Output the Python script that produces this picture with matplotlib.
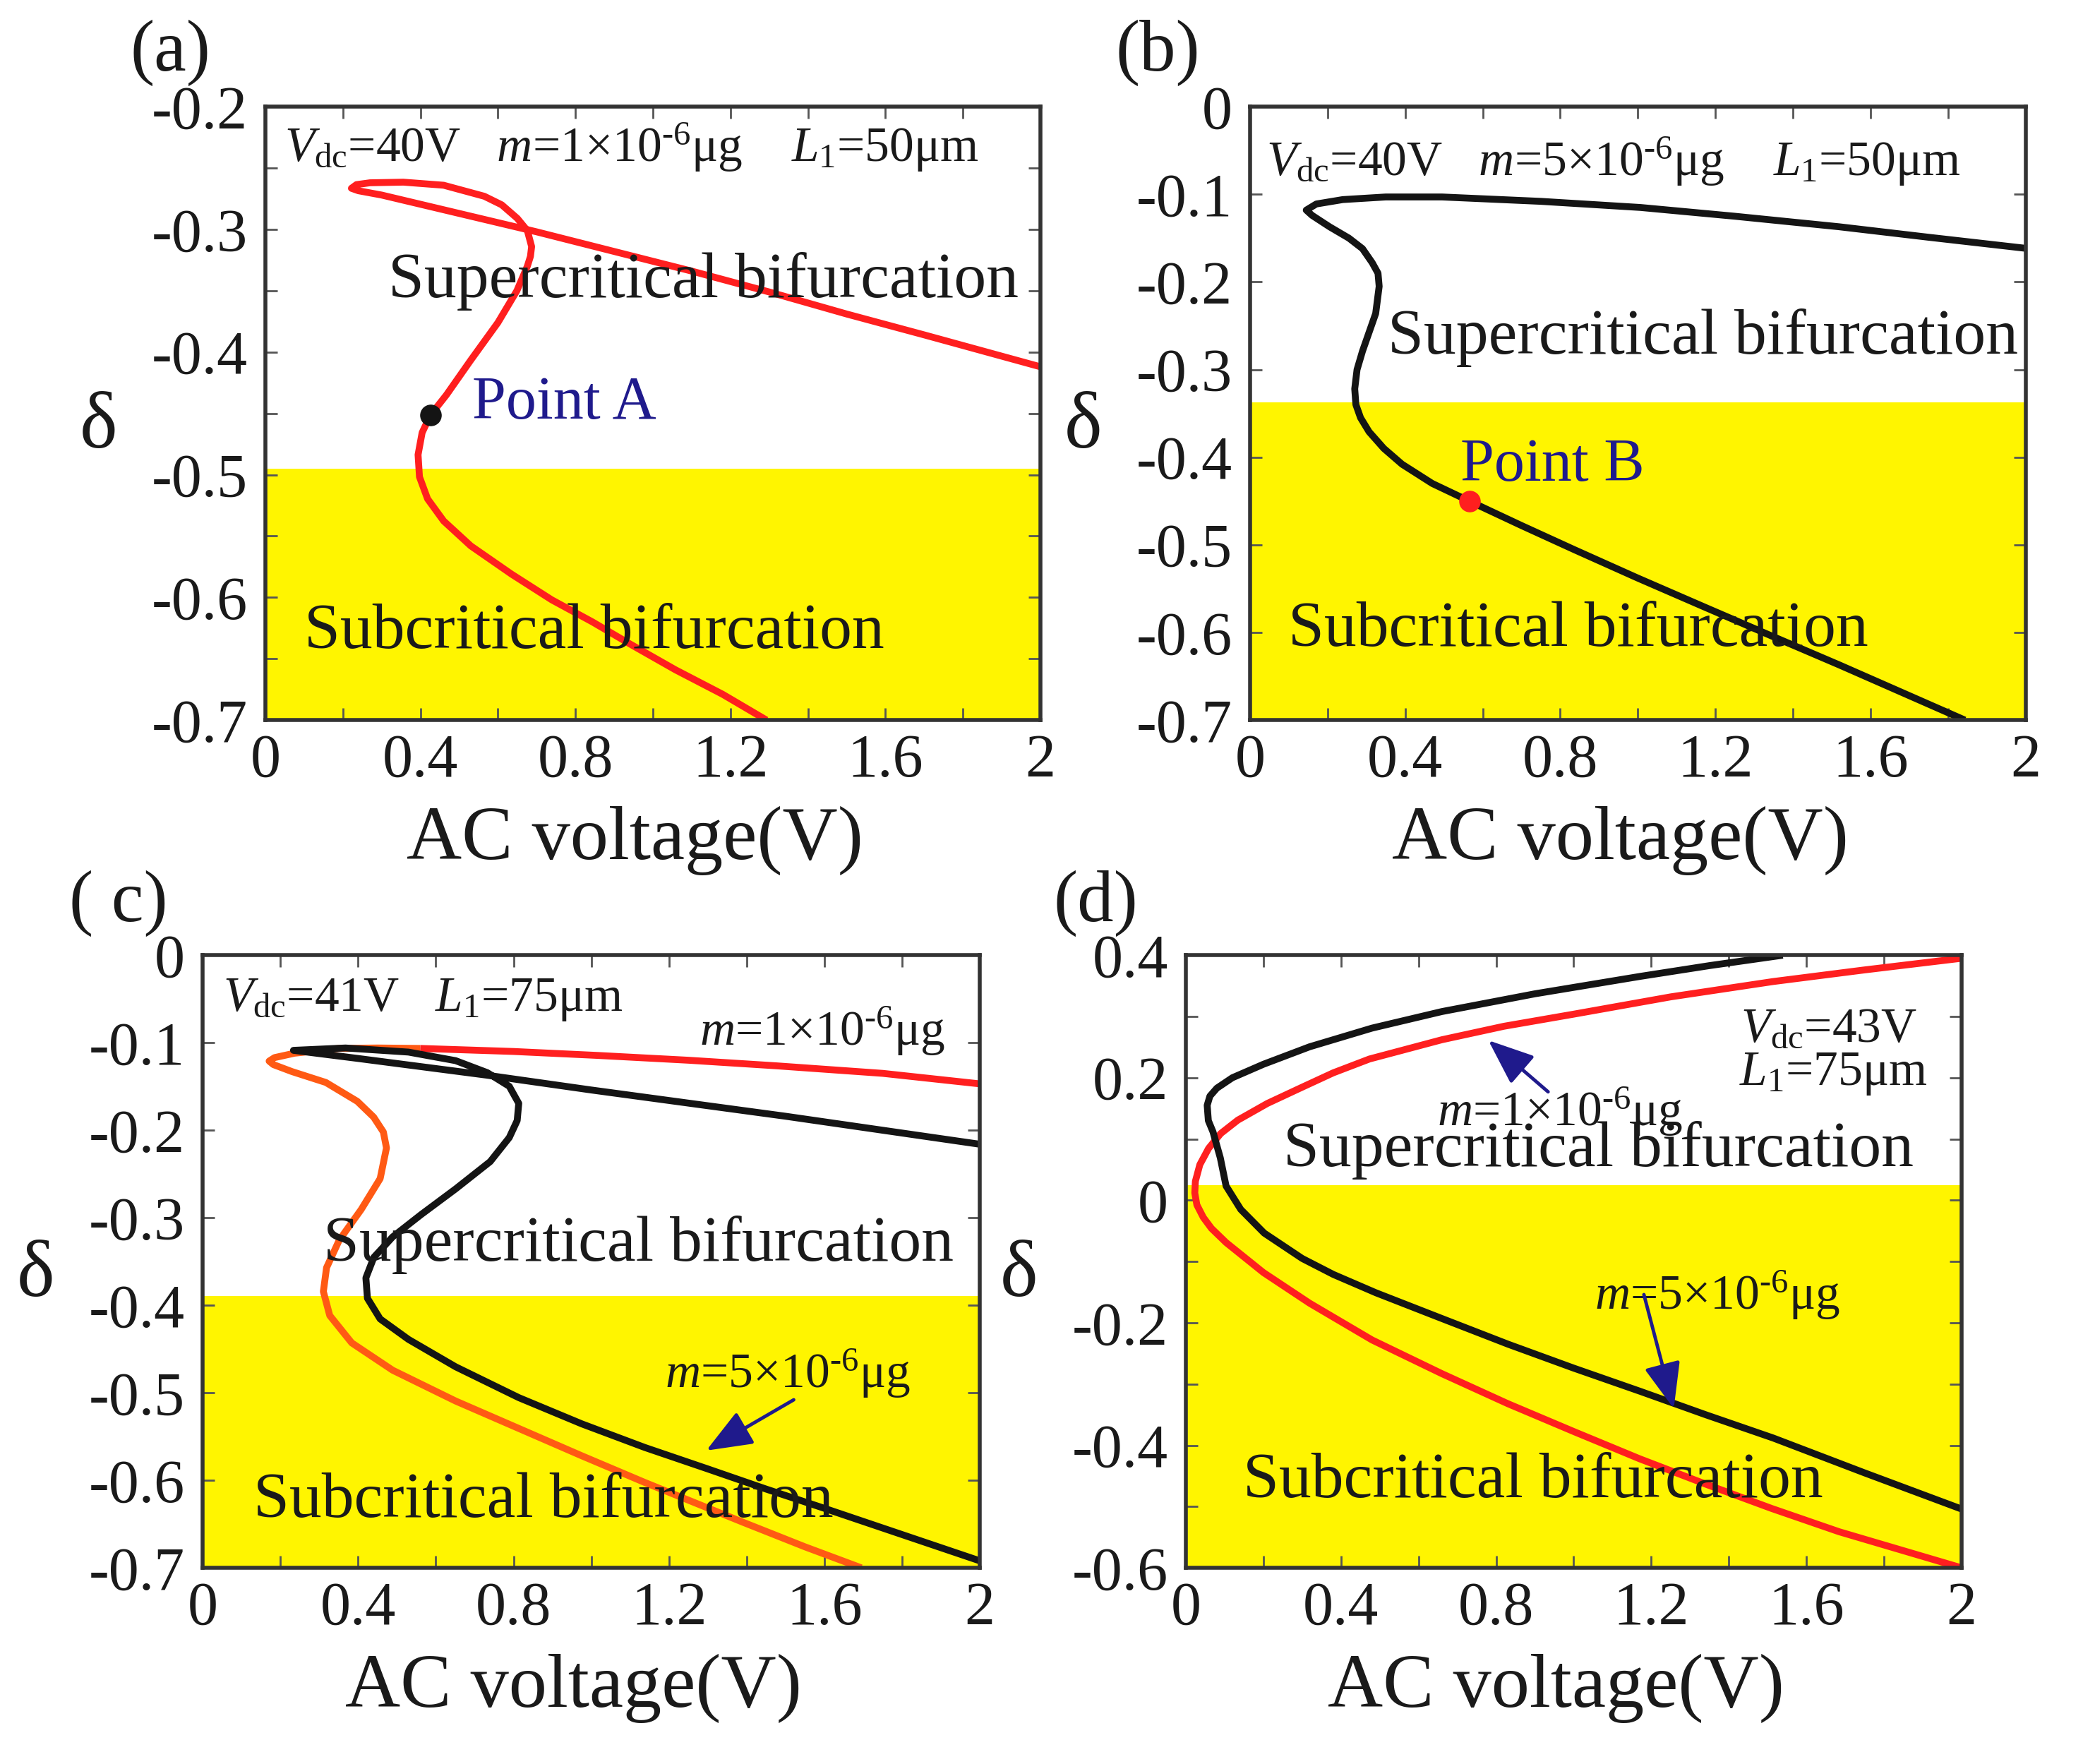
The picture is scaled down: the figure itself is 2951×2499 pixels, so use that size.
import numpy as np
import matplotlib
matplotlib.use('Agg')
import matplotlib.pyplot as plt
from matplotlib.ticker import MultipleLocator

plt.rcParams['font.family'] = 'Liberation Serif'
plt.rcParams['mathtext.fontset'] = 'custom'
plt.rcParams['mathtext.rm'] = 'Liberation Serif'
plt.rcParams['mathtext.it'] = 'Liberation Serif:italic'
plt.rcParams['axes.unicode_minus'] = False

# ---- data ----
# (a) m=1e-6 ug, L1=50um
a_x = [2.0, 1.7, 1.5, 1.3, 1.1, 0.9, 0.7, 0.5, 0.3, 0.24, 0.222, 0.235, 0.27, 0.356, 0.460, 0.565,
       0.610, 0.650, 0.676, 0.687, 0.684, 0.676, 0.649, 0.600, 0.530, 0.467, 0.4255, 0.4045, 0.394,
       0.3976, 0.4186, 0.460, 0.530, 0.635, 0.739, 0.844, 0.941, 1.058, 1.18, 1.293]
a_y = [-0.412, -0.386, -0.369, -0.351, -0.334, -0.318, -0.302, -0.287, -0.272, -0.2685, -0.2665,
       -0.2635, -0.262, -0.2615, -0.264, -0.273, -0.280, -0.291, -0.301, -0.314, -0.322, -0.330,
       -0.350, -0.376, -0.4066, -0.435, -0.4516, -0.4657, -0.4837, -0.5017, -0.5197, -0.5377,
       -0.558, -0.581, -0.602, -0.620, -0.638, -0.659, -0.679, -0.70]
pointA = (0.4255, -0.4516)
a_yellow = -0.4953

# (b) m=5e-6 ug, L1=50um
b_x = [2.0, 1.75, 1.519, 1.25, 1.007, 0.75, 0.495, 0.35, 0.239, 0.171, 0.145, 0.16, 0.205, 0.255,
       0.29, 0.315, 0.330, 0.333, 0.324, 0.305, 0.29, 0.276, 0.27, 0.273, 0.285, 0.307, 0.345,
       0.392, 0.47, 0.5665, 0.70, 0.836, 1.0, 1.177, 1.35, 1.519, 1.843]
b_y = [-0.1616, -0.149, -0.137, -0.125, -0.115, -0.108, -0.103, -0.103, -0.106, -0.111, -0.118,
       -0.124, -0.137, -0.150, -0.162, -0.178, -0.190, -0.205, -0.236, -0.260, -0.279, -0.300,
       -0.322, -0.340, -0.355, -0.371, -0.390, -0.408, -0.430, -0.4503, -0.478, -0.5055, -0.538,
       -0.572, -0.605, -0.637, -0.70]
pointB = (0.5665, -0.4503)
b_yellow = -0.3376

# (c) Vdc=41V, L1=75um : m=1e-6 (orange/red), m=5e-6 (black)
c1_low_x = [0.56, 0.45, 0.35, 0.236, 0.185, 0.171, 0.182, 0.230, 0.317, 0.398, 0.440, 0.465, 0.473,
            0.4567, 0.408, 0.3513, 0.3188, 0.3106, 0.327, 0.3837, 0.489, 0.651, 0.8134, 0.9757,
            1.138, 1.391, 1.55, 1.695]
c1_low_y = [-0.1065, -0.106, -0.1065, -0.112, -0.117, -0.121, -0.125, -0.133, -0.1454, -0.167,
            -0.185, -0.202, -0.2202, -0.2553, -0.2905, -0.3257, -0.357, -0.3843, -0.4117, -0.443,
            -0.4742, -0.5094, -0.5407, -0.572, -0.6025, -0.648, -0.676, -0.70]
c1_up_x = [0.56, 0.8, 1.016, 1.25, 1.477, 1.75, 2.0]
c1_up_y = [-0.1065, -0.110, -0.1145, -0.120, -0.1264, -0.135, -0.147]
c2_x = [2.0, 1.5, 1.0, 0.73, 0.4, 0.2336, 0.3675, 0.5297, 0.651, 0.7325, 0.789, 0.8134, 0.8094,
        0.789, 0.740, 0.651, 0.562, 0.489, 0.4405, 0.420, 0.424, 0.4567, 0.5297, 0.651, 0.8134,
        0.9757, 1.138, 1.30, 1.45, 1.6, 1.8, 2.0]
c2_y = [-0.216, -0.184, -0.154, -0.137, -0.118, -0.1087, -0.106, -0.1107, -0.1205, -0.1342,
        -0.1498, -0.1693, -0.1889, -0.2084, -0.2358, -0.267, -0.2964, -0.3218, -0.3452, -0.3687,
        -0.392, -0.4156, -0.439, -0.4703, -0.5055, -0.5355, -0.5625, -0.587, -0.610, -0.632,
        -0.662, -0.692]
c_yellow = -0.389

# (d) Vdc=43V, L1=75um
d1_x = [2.0, 1.75, 1.514, 1.25, 1.002, 0.82, 0.66, 0.4735, 0.38, 0.30, 0.21, 0.134, 0.09, 0.0586,
        0.036, 0.0246, 0.0230, 0.0284, 0.045, 0.066, 0.1037, 0.20, 0.319, 0.48, 0.66, 0.83, 1.002,
        1.17, 1.343, 1.51, 1.684, 2.0]
d1_y = [0.395, 0.376, 0.357, 0.332, 0.304, 0.284, 0.262, 0.2306, 0.208, 0.1846, 0.158, 0.1308,
        0.109, 0.0847, 0.058, 0.031, 0.012, -0.0075, -0.028, -0.0459, -0.069, -0.118, -0.168,
        -0.228, -0.283, -0.332, -0.378, -0.422, -0.464, -0.503, -0.541, -0.60]
d2_x = [1.539, 1.35, 1.172, 0.9, 0.66, 0.48, 0.319, 0.2, 0.12, 0.08, 0.062, 0.055, 0.058, 0.070,
        0.0888, 0.1037, 0.1416, 0.202, 0.30, 0.38, 0.49, 0.66, 0.831, 1.0, 1.172, 1.34, 1.514,
        1.75, 2.0]
d2_y = [0.4, 0.383, 0.3655, 0.337, 0.308, 0.281, 0.2505, 0.222, 0.200, 0.183, 0.170, 0.155, 0.13,
        0.1116, 0.0693, 0.0233, -0.015, -0.0536, -0.095, -0.121, -0.151, -0.193, -0.235, -0.274,
        -0.312, -0.350, -0.388, -0.445, -0.504]
d_yellow = 0.025

RED = '#ff1f1f'
ORANGE = '#ff5a14'
BLACK = '#141414'
NAVY = '#1f1a8c'
YELLOW = '#fff500'
LW = 7
FS_TICK = 62
FS_TXT = 66
FS_PAR = 50
SUP = r'$^{\text{-6}}$'

fig = plt.figure(figsize=(29.51, 24.99), dpi=100)
ax_a = fig.add_axes([0.1274, 0.5918, 0.3721, 0.3477])
ax_b = fig.add_axes([0.6001, 0.5918, 0.3724, 0.3477])
ax_c = fig.add_axes([0.0973, 0.1112, 0.3731, 0.3473])
ax_d = fig.add_axes([0.5693, 0.1112, 0.3724, 0.3473])


def fmt(v):
    if abs(v) < 1e-9:
        return '0'
    if abs(v - round(v)) < 1e-9:
        return '%d' % round(v)
    return '%.1f' % v


def setup(ax, ylo, yhi, ymaj, ymin, yellow):
    ax.set_xlim(0, 2)
    ax.set_ylim(ylo, yhi)
    xt = [0, 0.4, 0.8, 1.2, 1.6, 2.0]
    ax.set_xticks(xt, [fmt(v) for v in xt])
    ax.xaxis.set_minor_locator(MultipleLocator(0.2))
    yt = np.arange(ylo, yhi + 1e-9, ymaj)
    ax.set_yticks(yt, [fmt(v) for v in yt])
    ax.yaxis.set_minor_locator(MultipleLocator(ymin))
    ax.tick_params(which='both', direction='in', top=True, right=True, length=12, width=2,
                   color='#555555', labelsize=FS_TICK, labelcolor='#1a1a1a')
    ax.tick_params(axis='x', pad=14)
    ax.tick_params(axis='y', pad=18)
    for s in ax.spines.values():
        s.set_linewidth(4)
        s.set_color('#333333')
        s.set_zorder(6)
    ax.axhspan(ylo, yellow, color=YELLOW, lw=0, zorder=0)
    ax.set_xlabel('AC voltage(V)', fontsize=78, color='#1a1a1a', va='top')
    ax.xaxis.set_label_coords(0.477, -0.14)
    ax.set_ylabel('δ', fontsize=82, rotation=0, ha='center', va='center', color='#1a1a1a')
    ax.yaxis.set_label_coords(-0.215, 0.476)


def curve(ax, x, y, color, z):
    ax.plot(x, y, color=color, lw=LW, zorder=z, solid_joinstyle='round', solid_capstyle='butt')


setup(ax_a, -0.7, -0.2, 0.1, 0.05, a_yellow)
setup(ax_b, -0.7, 0.0, 0.1, 0.1, b_yellow)
setup(ax_c, -0.7, 0.0, 0.1, 0.1, c_yellow)
setup(ax_d, -0.6, 0.4, 0.2, 0.1, d_yellow)

txt = dict(color='#1a1a1a', zorder=4)

# (a)
curve(ax_a, a_x, a_y, RED, 3)
ax_a.plot(*pointA, 'o', ms=21, color=BLACK, zorder=5)
ax_a.text(0.05, -0.245, r'$V_{\rm dc}$=40V   $m$=1×10' + SUP + r'μg    $L_{1}$=50μm',
          fontsize=FS_PAR, **txt)
ax_a.text(0.3175, -0.3553, 'Supercritical bifurcation', fontsize=FS_TXT, **txt)
ax_a.text(0.534, -0.4542, 'Point A', fontsize=62, color=NAVY, zorder=4)
ax_a.text(0.0995, -0.641, 'Subcritical bifurcation', fontsize=FS_TXT, **txt)

# (b)
curve(ax_b, b_x, b_y, BLACK, 3)
ax_b.plot(*pointB, 'o', ms=21, color=RED, zorder=5)
ax_b.text(0.042, -0.0787, r'$V_{\rm dc}$=40V   $m$=5×10' + SUP + r'μg    $L_{1}$=50μm',
          fontsize=FS_PAR, **txt)
ax_b.text(0.355, -0.282, 'Supercritical bifurcation', fontsize=FS_TXT, **txt)
ax_b.text(0.542, -0.427, 'Point B', fontsize=62, color=NAVY, zorder=4)
ax_b.text(0.0986, -0.615, 'Subcritical bifurcation', fontsize=FS_TXT, **txt)

# (c)
curve(ax_c, c1_low_x, c1_low_y, ORANGE, 2)
curve(ax_c, c1_up_x, c1_up_y, RED, 2)
curve(ax_c, c2_x, c2_y, BLACK, 3)
ax_c.text(0.052, -0.0637, r'$V_{\rm dc}$=41V   $L_{1}$=75μm', fontsize=FS_PAR, **txt)
ax_c.text(1.278, -0.103, r'$m$=1×10' + SUP + 'μg', fontsize=FS_PAR, **txt)
ax_c.text(0.31, -0.349, 'Supercritical bifurcation', fontsize=FS_TXT, **txt)
ax_c.text(1.19, -0.494, r'$m$=5×10' + SUP + 'μg', fontsize=FS_PAR, **txt)
ax_c.text(0.13, -0.642, 'Subcritical bifurcation', fontsize=FS_TXT, **txt)
arrow = dict(arrowstyle='-|>,head_length=1.0,head_width=0.4', mutation_scale=40,
             lw=3.5, color=NAVY, shrinkA=0, shrinkB=0)
ax_c.annotate('', xy=(1.296, -0.566), xytext=(1.521, -0.508), arrowprops=arrow, zorder=5)

# (d)
curve(ax_d, d1_x, d1_y, RED, 2)
curve(ax_d, d2_x, d2_y, BLACK, 3)
ax_d.text(1.43, 0.259, r'$V_{\rm dc}$=43V', fontsize=FS_PAR, **txt)
ax_d.text(1.427, 0.188, r'$L_{1}$=75μm', fontsize=FS_PAR, **txt)
ax_d.text(0.647, 0.121, r'$m$=1×10' + SUP + 'μg', fontsize=FS_PAR, **txt)
ax_d.text(0.251, 0.056, 'Supercritical bifurcation', fontsize=FS_TXT, **txt)
ax_d.text(1.053, -0.178, r'$m$=5×10' + SUP + 'μg', fontsize=FS_PAR, **txt)
ax_d.text(0.148, -0.485, 'Subcritical bifurcation', fontsize=FS_TXT, **txt)
ax_d.annotate('', xy=(0.78, 0.261), xytext=(0.934, 0.177), arrowprops=arrow, zorder=5)
ax_d.annotate('', xy=(1.258, -0.340), xytext=(1.181, -0.154), arrowprops=arrow, zorder=5)

# panel letters
fig.text(0.0624, 0.970, '(a)', fontsize=74, va='center', color='#1a1a1a')
fig.text(0.5357, 0.970, '(b)', fontsize=74, va='center', color='#1a1a1a')
fig.text(0.0332, 0.4878, '( c)', fontsize=74, va='center', color='#1a1a1a')
fig.text(0.5056, 0.4878, '(d)', fontsize=74, va='center', color='#1a1a1a')

fig.savefig('out.png', dpi=100, facecolor='white')
